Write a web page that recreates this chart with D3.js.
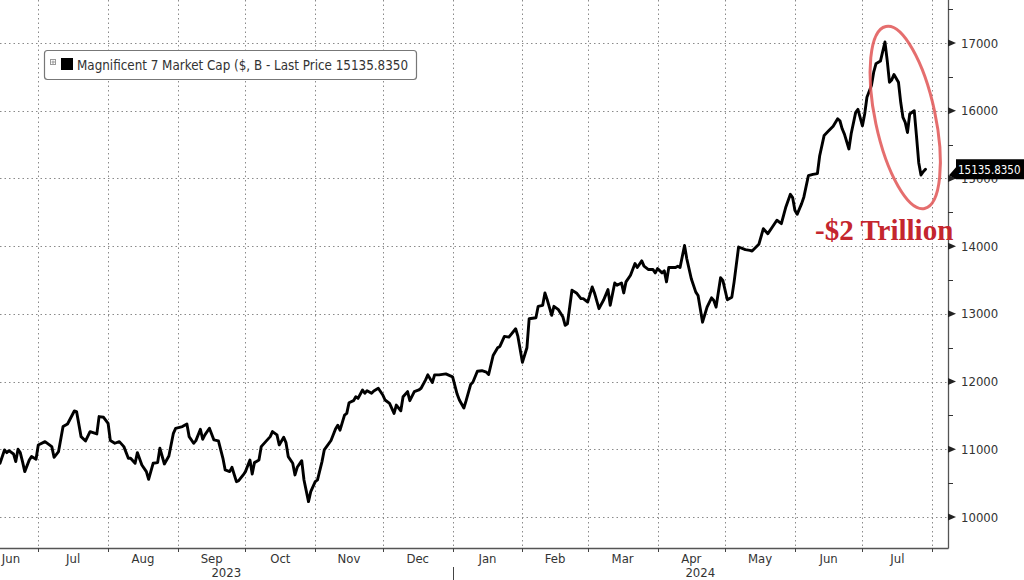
<!DOCTYPE html>
<html><head><meta charset="utf-8">
<script src="https://cdn.jsdelivr.net/npm/d3@7"></script>
<style>body{margin:0;background:#fff}svg{display:block}</style>
</head><body><svg id="c" width="1024" height="580"></svg>
<script>
// ---- data ----
const dates = [
"2023-06-14","2023-06-16","2023-06-17","2023-06-18","2023-06-20","2023-06-21","2023-06-22","2023-06-23","2023-06-24","2023-06-25","2023-06-27","2023-06-28","2023-06-30",
"2023-07-01","2023-07-04","2023-07-07","2023-07-08","2023-07-10","2023-07-12","2023-07-14","2023-07-17","2023-07-18","2023-07-20","2023-07-22","2023-07-24","2023-07-27","2023-07-28","2023-07-30",
"2023-08-01","2023-08-02","2023-08-04","2023-08-06","2023-08-08","2023-08-10","2023-08-11","2023-08-13","2023-08-14","2023-08-16","2023-08-18","2023-08-19","2023-08-21","2023-08-23","2023-08-24","2023-08-26","2023-08-28","2023-08-30","2023-08-31",
"2023-09-03","2023-09-05","2023-09-06","2023-09-08","2023-09-09","2023-09-11","2023-09-12","2023-09-13","2023-09-15","2023-09-17","2023-09-19","2023-09-21","2023-09-22","2023-09-24","2023-09-25","2023-09-27","2023-09-28","2023-09-30",
"2023-10-01","2023-10-03","2023-10-04","2023-10-05","2023-10-07","2023-10-08","2023-10-10","2023-10-12","2023-10-13","2023-10-15","2023-10-16","2023-10-18","2023-10-19","2023-10-20","2023-10-22","2023-10-23","2023-10-24","2023-10-26","2023-10-27","2023-10-29","2023-10-30",
"2023-11-01","2023-11-02","2023-11-04","2023-11-05","2023-11-08","2023-11-10","2023-11-11","2023-11-12","2023-11-14","2023-11-15","2023-11-16","2023-11-18","2023-11-19","2023-11-20","2023-11-22","2023-11-23","2023-11-24","2023-11-26","2023-11-27","2023-11-29",
"2023-12-01","2023-12-02","2023-12-04","2023-12-06","2023-12-07","2023-12-09","2023-12-10","2023-12-12","2023-12-13","2023-12-15","2023-12-17","2023-12-18","2023-12-20","2023-12-21","2023-12-23","2023-12-24","2023-12-26","2023-12-29",
"2024-01-01","2024-01-03","2024-01-04","2024-01-06","2024-01-07","2024-01-09","2024-01-10","2024-01-12","2024-01-14","2024-01-16","2024-01-17","2024-01-19","2024-01-21","2024-01-22","2024-01-24","2024-01-26","2024-01-29","2024-01-30",
"2024-02-01","2024-02-03","2024-02-04","2024-02-07","2024-02-08","2024-02-10","2024-02-11","2024-02-12","2024-02-14","2024-02-15","2024-02-17","2024-02-19","2024-02-20","2024-02-21","2024-02-23","2024-02-25","2024-02-27","2024-02-28",
"2024-03-01","2024-03-03","2024-03-04","2024-03-06","2024-03-08","2024-03-10","2024-03-11","2024-03-13","2024-03-14","2024-03-16","2024-03-17","2024-03-18","2024-03-20","2024-03-22","2024-03-23","2024-03-25","2024-03-26","2024-03-28","2024-03-30","2024-03-31",
"2024-04-01","2024-04-03","2024-04-04","2024-04-05","2024-04-06","2024-04-09","2024-04-10","2024-04-11","2024-04-13","2024-04-14","2024-04-16","2024-04-18","2024-04-19","2024-04-21","2024-04-23","2024-04-25","2024-04-26","2024-04-27","2024-04-29","2024-04-30",
"2024-05-02","2024-05-04","2024-05-05","2024-05-07","2024-05-10","2024-05-12","2024-05-13","2024-05-16","2024-05-18","2024-05-20","2024-05-22","2024-05-24","2024-05-26","2024-05-28","2024-05-30","2024-05-31",
"2024-06-01","2024-06-02","2024-06-04","2024-06-05","2024-06-07","2024-06-09","2024-06-11","2024-06-12","2024-06-14","2024-06-16","2024-06-18","2024-06-20","2024-06-21","2024-06-22","2024-06-23","2024-06-25","2024-06-26","2024-06-28","2024-06-29",
"2024-07-01","2024-07-02","2024-07-03","2024-07-05","2024-07-06","2024-07-07","2024-07-09","2024-07-11","2024-07-12","2024-07-13","2024-07-14","2024-07-15","2024-07-17","2024-07-18","2024-07-19","2024-07-20","2024-07-21","2024-07-22","2024-07-24","2024-07-25","2024-07-26","2024-07-27","2024-07-28","2024-07-29"
];
const values = [
10793,10990,10951,10980,10931,10818,11000,10951,10818,10670,10842,10892,10852,
11064,11113,11039,10882,10966,11335,11374,11566,11557,11187,11123,11261,11227,11483,11473,
11384,11128,11089,11113,11039,10867,10867,10793,10951,10768,10670,10557,10793,10803,11015,10783,10901,11236,11310,
11335,11374,11187,11089,11128,11296,11148,11212,11310,11138,11123,10867,10695,10670,10734,10522,10537,10621,
10670,10842,10635,10803,10842,11039,11113,11187,11261,11212,11064,11177,11099,10892,10793,10621,10734,10832,10547,10227,10374,
10522,10547,10818,10990,11130,11300,11356,11282,11505,11530,11688,11718,11777,11752,11876,11827,11866,11827,11861,11901,
11802,11728,11678,11530,11653,11569,11777,11851,11718,11851,11876,11901,12025,12099,11985,12099,12099,12114,
12070,11815,11728,11610,11718,11956,11990,12153,12160,12138,12104,12385,12499,12519,12667,12657,12780,12667,
12286,12499,12928,12943,13111,13126,13309,13210,12978,13111,13062,12953,12830,12854,13348,13309,13225,13225,
13175,13398,13309,13077,13200,13358,13126,13457,13422,13457,13309,13472,13570,13743,13684,13783,13704,13654,13654,13605,
13669,13605,13635,13472,13684,13684,13704,13684,14010,13814,13518,13321,13271,12877,13099,13237,13197,13099,13533,13494,
13208,13247,13469,13987,13948,13938,13928,14027,14258,14184,14283,14382,14332,14579,14766,14717,
14530,14470,14628,14727,15040,15060,15070,15332,15635,15703,15770,15880,15852,15733,15654,15435,15660,15975,16020,
15777,15951,16198,16371,16569,16693,16733,17015,16743,16421,16455,16535,16421,16124,15901,15827,15678,15951,16000,15629,15233,15050,15100,15136
];
const monthStarts = ["2023-06-01","2023-07-01","2023-08-01","2023-09-01","2023-10-01","2023-11-01","2023-12-01",
  "2024-01-01","2024-02-01","2024-03-01","2024-04-01","2024-05-01","2024-06-01","2024-07-01","2024-08-01"];
const yearLabels = ["2023","2024"];
const yTicks = [10000,11000,12000,13000,14000,15000,16000,17000];
const yMinorTicks = [9500,10500,11500,12500,13500,14500,15500,16500,17500];
const seriesName = "Magnificent 7 Market Cap ($, B - Last Price";
const lastPrice = "15135.8350";
const annotation = "-$2 Trillion";

// ---- setup ----
const parse = d3.timeParse("%Y-%m-%d");
const data = dates.map((d, i) => ({date: parse(d), value: values[i]}));
const W = 1024, H = 580;
const plotR = 948, plotB = 548;
const svg = d3.select("#c");
svg.append("rect").attr("width", W).attr("height", H).attr("fill", "#fff");

const x = d3.scaleTime().domain([parse("2023-06-14"), parse("2024-08-08")]).range([0, plotR]);
const y = d3.scaleLinear().domain([10000, 17000]).range([517, 43]);

const FONT = "'DejaVu Sans Condensed','DejaVu Sans',sans-serif";
const grid = svg.append("g");
const monthDates = monthStarts.map(parse);

// horizontal grid
grid.selectAll("line.h").data(yTicks).join("line")
  .attr("x1", 0).attr("x2", plotR)
  .attr("y1", d => Math.round(y(d)) + 0.5).attr("y2", d => Math.round(y(d)) + 0.5)
  .attr("stroke", "#8a8a8a").attr("stroke-width", 1).attr("stroke-dasharray", "1.5,3");
// vertical grid
grid.selectAll("line.v").data(monthDates.filter(d => x(d) > 0 && x(d) < plotR)).join("line")
  .attr("x1", d => Math.round(x(d)) + 0.5).attr("x2", d => Math.round(x(d)) + 0.5)
  .attr("y1", 0).attr("y2", plotB)
  .attr("stroke", "#8a8a8a").attr("stroke-width", 1).attr("stroke-dasharray", "1.5,3");

// line
const line = d3.line().x(d => x(d.date)).y(d => y(d.value)).curve(d3.curveLinear);
svg.append("path").datum(data).attr("d", line)
  .attr("fill", "none").attr("stroke", "#000").attr("stroke-width", 2.9)
  .attr("stroke-linejoin", "round").attr("stroke-linecap", "round");

// axes lines
svg.append("line").attr("x1", 0).attr("x2", plotR + 0.5).attr("y1", plotB + 0.5).attr("y2", plotB + 0.5)
  .attr("stroke", "#555").attr("stroke-width", 1.3);
svg.append("line").attr("x1", plotR + 0.5).attr("x2", plotR + 0.5).attr("y1", 0).attr("y2", plotB + 0.5)
  .attr("stroke", "#555").attr("stroke-width", 1.3);

// x ticks
const xt = svg.append("g");
xt.selectAll("line").data(monthDates.filter(d => x(d) > 0 && x(d) < plotR)).join("line")
  .attr("x1", d => Math.round(x(d)) + 0.5).attr("x2", d => Math.round(x(d)) + 0.5)
  .attr("y1", plotB).attr("y2", plotB + 4).attr("stroke", "#444").attr("stroke-width", 1);
// month labels at mid-month
const fmt = d3.timeFormat("%b");
const mids = monthDates.slice(0, -1).map((d, i) => ({d, mid: (x(d) + x(monthDates[i + 1])) / 2}));
xt.selectAll("text").data(mids).join("text")
  .attr("x", m => Math.max(m.mid, 11)).attr("y", 563)
  .attr("text-anchor", "middle").attr("font-family", FONT).attr("font-size", 13)
  .attr("fill", "#333").text(m => fmt(m.d));
// year separator & labels
yearLabels.forEach(yr => {
  const s = x(parse(yr + "-01-01")), e = x(parse((+yr + 1) + "-01-01"));
  const a = Math.max(0, s), b = Math.min(plotR, e);
  if (s > 0) svg.append("line").attr("x1", Math.round(s) + 0.5).attr("x2", Math.round(s) + 0.5)
      .attr("y1", 567).attr("y2", 580).attr("stroke", "#444").attr("stroke-width", 1);
  svg.append("text").attr("x", (a + b) / 2).attr("y", 577).attr("text-anchor", "middle")
    .attr("font-family", FONT).attr("font-size", 13).attr("fill", "#333").text(yr);
});

// y axis ticks & labels
const ya = svg.append("g");
ya.selectAll("path").data(yTicks).join("path")
  .attr("d", d => { const yy = y(d); return `M${plotR},${yy - 3.5}L${plotR + 8},${yy}L${plotR},${yy + 3.5}Z`; })
  .attr("fill", "#222");
ya.selectAll("line").data(yMinorTicks.filter(d => y(d) > 0 && y(d) < plotB)).join("line")
  .attr("x1", plotR).attr("x2", plotR + 5).attr("y1", d => Math.round(y(d)) + 0.5).attr("y2", d => Math.round(y(d)) + 0.5)
  .attr("stroke", "#333").attr("stroke-width", 1);
ya.selectAll("text").data(yTicks).join("text")
  .attr("x", 961).attr("y", d => y(d) + 4.5)
  .attr("font-family", FONT).attr("font-size", 13).attr("fill", "#333")
  .text(d => d3.format("d")(d));

// last price tag
const lastY = y(values[values.length - 1]);
svg.append("path")
  .attr("d", `M${plotR + 1},${lastY + 6}L${plotR + 8},${lastY - 2}L${plotR + 8},${lastY - 10}L1024,${lastY - 10}L1024,${lastY + 10}L${plotR + 8},${lastY + 10}Z`)
  .attr("fill", "#000");
svg.append("text").attr("x", plotR + 10).attr("y", lastY + 4.5)
  .attr("font-family", FONT).attr("font-size", 11.5).attr("fill", "#fff").text(lastPrice);

// legend
const lg = svg.append("g");
lg.append("rect").attr("x", 44.5).attr("y", 50.5).attr("width", 372).attr("height", 29).attr("rx", 3)
  .attr("fill", "#fff").attr("stroke", "#777").attr("stroke-width", 1.2);
lg.append("rect").attr("x", 50.5).attr("y", 59.5).attr("width", 5).attr("height", 5)
  .attr("fill", "none").attr("stroke", "#999").attr("stroke-width", 1);
lg.append("line").attr("x1", 51.5).attr("x2", 55).attr("y1", 62).attr("y2", 62).attr("stroke", "#999");
lg.append("line").attr("x1", 53).attr("x2", 53).attr("y1", 60.5).attr("y2", 64).attr("stroke", "#999");
lg.append("rect").attr("x", 61).attr("y", 58).attr("width", 12).attr("height", 12).attr("fill", "#000");
lg.append("text").attr("x", 77).attr("y", 70).attr("font-family", FONT).attr("font-size", 13.3)
  .attr("fill", "#333").text(seriesName + " " + lastPrice);

// annotation
const peakI = values.indexOf(d3.max(values));
const cx = (x(data[peakI].date) + x(data[data.length - 1].date)) / 2;
const cy = y(15900);
svg.append("ellipse").attr("cx", 0).attr("cy", 0).attr("rx", 30).attr("ry", 93)
  .attr("transform", `translate(${cx},${cy}) rotate(-12)`)
  .attr("fill", "none").attr("stroke", "#e05555").attr("stroke-width", 3).attr("stroke-opacity", 0.85);
svg.append("text").attr("x", 815).attr("y", 240)
  .attr("font-family", "'Liberation Serif','Times New Roman',serif").attr("font-weight", "bold")
  .attr("font-size", 29).attr("fill", "#c4262e").text(annotation);
</script></body></html>
